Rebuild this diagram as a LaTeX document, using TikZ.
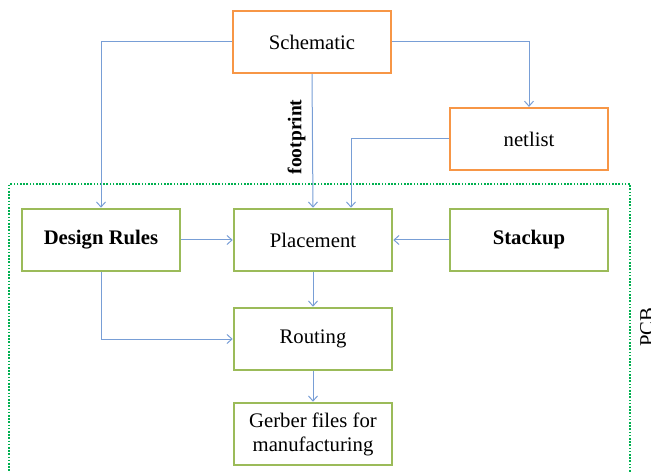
\documentclass[tikz,border=0pt]{standalone}
\usepackage{fontspec}
\setmainfont{Liberation Serif}
\usetikzlibrary{arrows.meta}
\definecolor{boxorange}{RGB}{247,150,70}
\definecolor{boxgreen}{RGB}{155,187,89}
\definecolor{linkblue}{RGB}{120,158,214}
\definecolor{pcbgreen}{RGB}{0,176,80}
\newcommand{\boxfont}{\fontsize{20.7}{24}\selectfont}
\tikzset{
  base/.style={minimum width=158pt, minimum height=62pt, inner sep=0pt, align=center,
    font=\boxfont},
  srcbox/.style={base, draw=boxorange, line width=2.2pt},
  pcbbox/.style={base, draw=boxgreen, line width=2.6pt},
  link/.style={draw=linkblue, line width=1pt, -{Straight Barb[length=5pt,width=9pt]}},
}
\begin{document}
\begin{tikzpicture}[x=1pt,y=-1pt]
\useasboundingbox (0,0) rectangle (651,473);
\clip (0,0) rectangle (651,473);

% PCB region
\node[draw=pcbgreen, line width=2.4pt, dash pattern=on 1.6pt off 1.6pt,
      minimum width=621pt, minimum height=300pt, anchor=north west, inner sep=0pt]
      (pcb) at (8,183) {};
\node[rotate=90, font=\boxfont] (pcblabel) at (647,327) {PCB};

% boxes
\node[srcbox] (sch) at (312,42) {Schematic};
\node[srcbox] (net) at (529,139) {netlist};
\node[pcbbox, font=\boxfont\bfseries] (rules) at (101,240) {Design Rules};
\node[pcbbox] (place) at (313,240) {Placement};
\node[pcbbox, font=\boxfont\bfseries] (stack) at (529,240) {Stackup};
\node[pcbbox] (route) at (313,339) {Routing};
\node[pcbbox] (gerber) at (313,434) {Gerber files for\\manufacturing};

% connectors
\draw[link] (sch.west) -| (rules.north);
\draw[link] (sch.east) -| (net.north);
\draw[link] (sch.south) -- node[pos=0.47, left=3pt, rotate=90, anchor=south,
   font=\fontsize{19.5}{22}\selectfont\bfseries] (fp) {footprint} (place.north);
\coordinate (netdrop) at (351,0);
\draw[link] (net.west) -| (netdrop |- place.north);
\draw[link] (rules.east) -- (place.west);
\draw[link] (stack.west) -- (place.east);
\draw[link] (place.south) -- (route.north);
\draw[link] (rules.south) |- (route.west);
\draw[link] (route.south) -- (gerber.north);
\end{tikzpicture}
\end{document}
